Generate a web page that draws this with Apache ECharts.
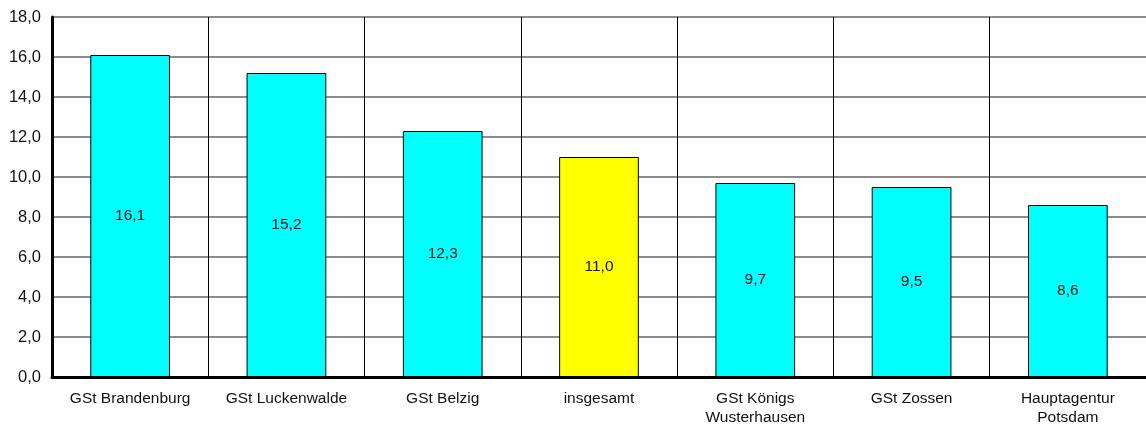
<!DOCTYPE html>
<html>
<head>
<meta charset="utf-8">
<script src="https://cdn.jsdelivr.net/npm/echarts@6/dist/echarts.min.js"></script>
<style>
  html, body { margin: 0; padding: 0; background: #fff; }
  #main { width: 1146px; height: 427px; }
</style>
</head>
<body>
<div id="main"></div>
<script>
const categories = ['GSt Brandenburg', 'GSt Luckenwalde', 'GSt Belzig', 'insgesamt', 'GSt Königs\nWusterhausen', 'GSt Zossen', 'Hauptagentur\nPotsdam']
const values = [16.1, 15.2, 12.3, 11.0, 9.7, 9.5, 8.6]
const highlight = 'insgesamt'

const fmt = (v) => v.toFixed(1).replace('.', ',')

const chart = echarts.init(document.getElementById('main'))

const option = {
  animation: false,
  textStyle: { fontFamily: 'Liberation Sans, Arial, sans-serif' },
  grid: { left: 52, right: 0, top: 17, bottom: 48 },
  xAxis: {
    type: 'category',
    data: categories,
    axisLine: { lineStyle: { color: '#000', width: 3 } },
    axisTick: { show: false },
    axisLabel: { color: '#111', fontSize: 15.5, margin: 12, lineHeight: 19, interval: 0 },
    splitLine: { show: true, interval: 0, lineStyle: { color: '#000', width: 1 } }
  },
  yAxis: {
    type: 'value',
    min: 0,
    max: 18,
    interval: 2,
    axisLine: { show: true, lineStyle: { color: '#000', width: 3 } },
    axisTick: { show: false },
    axisLabel: { color: '#111', fontSize: 16.5, margin: 11, formatter: fmt },
    splitLine: { lineStyle: { color: '#666', width: 1.5 } }
  },
  series: [{
    type: 'bar',
    barWidth: '51%',
    data: values.map((v, i) => ({
      value: v,
      itemStyle: { color: categories[i] === highlight ? '#ffff00' : '#00ffff' }
    })),
    itemStyle: { borderColor: '#000', borderWidth: 1 },
    label: {
      show: true,
      position: 'inside',
      color: '#111',
      fontSize: 15.5,
      formatter: (p) => fmt(p.value)
    }
  }]
}

chart.setOption(option)
</script>
</body>
</html>
